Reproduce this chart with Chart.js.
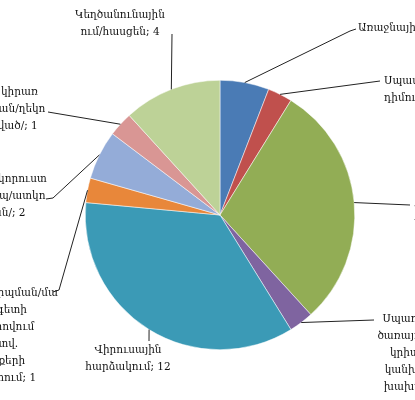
<!DOCTYPE html>
<html>
<head>
<meta charset="utf-8">
<script src="https://cdn.jsdelivr.net/npm/chart.js@4/dist/chart.umd.min.js"></script>
<style>
  html, body { margin: 0; padding: 0; background: #ffffff; overflow: hidden; }
  #wrap { position: relative; width: 415px; height: 400px; }
</style>
</head>
<body>
<div id="wrap"><canvas id="pieChart" width="415" height="400"></canvas></div>
<script>
// slices, clockwise from 12 o'clock
const categories = [
    ['Առաջնային հասանելիություն; 2'],
    ['Սպամ/անցանկալի', 'դիմումներ; 1'],
    ['Տվյալների', 'արտահոսք; 10'],
    ['Սպառնալիքների', 'ծառայությունների', 'կրիտիկական՝', 'կանխարգելման', 'խախտումներ; 1'],
    ['Վիրուսային', 'հարձակում; 12'],
    ['Կազմակերպման/մա', 'սնագետի', 'ապահովում', 'հատվ.', 'սարքերի', 'խախտում; 1'],
    ['Տվյալների կորուստ', 'սերվեր/ամպ/ատկո', 'պահման/; 2'],
    ['Համակարգի կիրառ', 'հասանելիության/ղեկո', 'մուտքը փակված/; 1'],
    ['Կեղծանունային', 'ում/հասցեն; 4']
];
const values = [2, 1, 10, 1, 12, 1, 2, 1, 4];
const colors = ['#4a7bb5', '#c0504d', '#92ad55', '#7f64a0', '#3b9ab6', '#e8873a', '#94acd8', '#d99694', '#bdd297'];

// where each label sits and how its leader line bends (canvas px)
const labelLayout = [
    { x: 358, y: 28, align: 'left', path: [[350, 31], [356, 29]] },
    { x: 384, y: 81, align: 'left', path: [[380, 81]] },
    { x: 414, y: 205, align: 'left', path: [[410, 205]] },
    { x: 430, y: 319, align: 'center', path: [[374, 320]] },
    { x: 128, y: 350, align: 'center', path: [[149, 341]] },
    { x: 0, y: 293, align: 'center', path: [[59, 290], [53, 292]] },
    { x: -8, y: 179, align: 'center', path: [[53, 198], [46, 199]] },
    { x: -18, y: 92, align: 'center', path: [[48, 112]] },
    { x: 120, y: 15, align: 'center', path: [[172, 34]] }
];

const leaderLabels = {
    id: 'leaderLabels',
    afterDatasetsDraw(chart) {
        const ctx = chart.ctx;
        const meta = chart.getDatasetMeta(0);
        ctx.save();
        ctx.strokeStyle = '#222222';
        ctx.lineWidth = 1;
        ctx.fillStyle = '#111111';
        ctx.font = '10.5px "DejaVu Serif", "Liberation Serif", serif';
        ctx.textBaseline = 'middle';
        meta.data.forEach((arc, i) => {
            const p = arc.getProps(['x', 'y', 'startAngle', 'endAngle', 'outerRadius'], true);
            const mid = (p.startAngle + p.endAngle) / 2;
            const ax = p.x + Math.cos(mid) * p.outerRadius;
            const ay = p.y + Math.sin(mid) * p.outerRadius;
            const lay = labelLayout[i];

            ctx.beginPath();
            ctx.moveTo(ax, ay);
            lay.path.forEach(([px, py]) => ctx.lineTo(px, py));
            ctx.stroke();

            ctx.textAlign = lay.align;
            categories[i].forEach((line, k) => {
                ctx.fillText(line, lay.x, lay.y + k * 17);
            });
        });
        ctx.restore();
    }
};

new Chart(document.getElementById('pieChart'), {
    type: 'pie',
    data: {
        labels: categories.map(c => c.join(' ')),
        datasets: [{
            data: values,
            backgroundColor: colors,
            borderColor: '#ffffff',
            borderWidth: 0.5
        }]
    },
    options: {
        responsive: false,
        animation: false,
        layout: { padding: { top: 80, bottom: 50, left: 85, right: 60 } },
        plugins: {
            legend: { display: false },
            tooltip: { enabled: false }
        }
    },
    plugins: [leaderLabels]
});
</script>
</body>
</html>
